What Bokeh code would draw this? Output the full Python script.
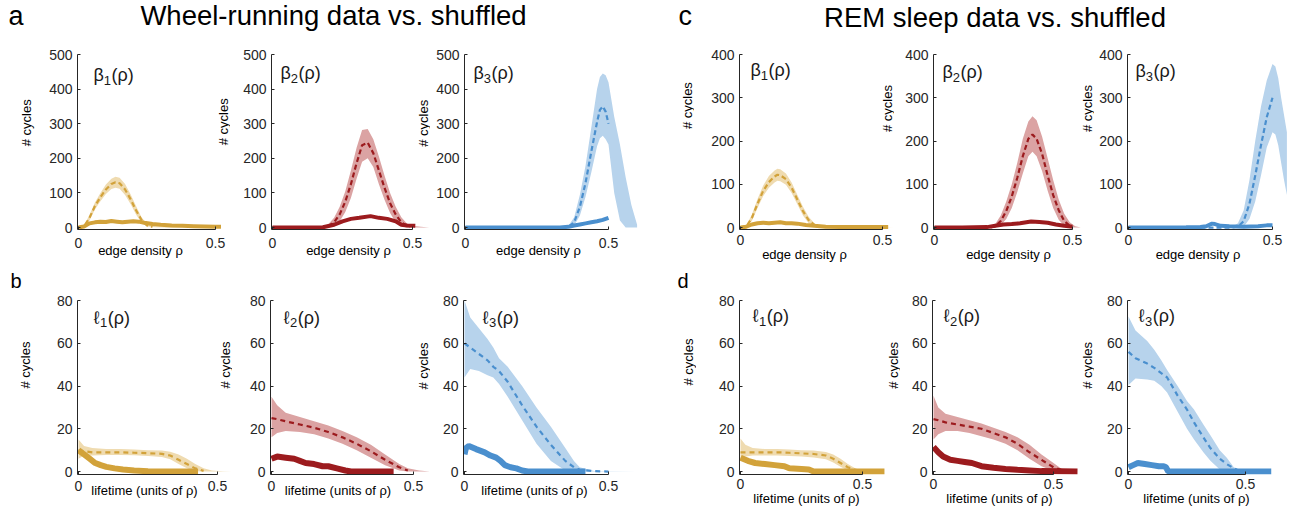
import math
from bokeh.plotting import figure
from bokeh.layouts import column, row
from bokeh.models import Range1d, FixedTicker, Label, LinearAxis
from bokeh.embed import file_html
from bokeh.resources import INLINE

FONT = "Liberation Sans"
INK = "#262626"
GOLD, GOLD_BAND = "#D2A23A", "#EFDBB0"
RED, RED_BAND = "#9C1B1E", "#DBA3A3"
BLUE, BLUE_BAND = "#4A8FCE", "#B7D3EC"

# ---------------- Betti curves, wheel running (edge density rho) ----------------
a1_band_rho = [0, 0.02, 0.04, 0.06, 0.08, 0.10, 0.12, 0.135, 0.15, 0.17, 0.19, 0.21, 0.23, 0.25, 0.28, 0.32, 0.38, 0.45, 0.52]
a1_hi = [0, 6, 36, 72, 100, 124, 141, 147, 144, 126, 96, 62, 30, 10, 4, 2, 1, 0.5, 0]
a1_lo = [0, 1, 20, 52, 76, 97, 111, 115, 112, 94, 68, 38, 14, 3, 0.5, 0, 0, 0, 0]
a1_mean_rho = [0, 0.02, 0.04, 0.06, 0.08, 0.10, 0.12, 0.135, 0.15, 0.17, 0.19, 0.21, 0.23, 0.25, 0.27]
a1_mean = [0, 3, 28, 62, 88, 110, 126, 131, 128, 110, 82, 50, 22, 6, 2]
a1_data_rho = [0, 0.02, 0.04, 0.06, 0.08, 0.10, 0.12, 0.14, 0.16, 0.18, 0.20, 0.22, 0.24, 0.27, 0.30, 0.34, 0.38, 0.42, 0.46, 0.50, 0.52]
a1_data = [0, 3, 12, 15, 17, 16, 19, 17, 15, 17, 18, 17, 14, 10, 8, 6, 5, 4, 3, 2, 2]

a2_band_rho = [0, 0.18, 0.20, 0.22, 0.24, 0.26, 0.28, 0.30, 0.32, 0.34, 0.36, 0.38, 0.40, 0.42, 0.44, 0.46, 0.48, 0.50, 0.53, 0.56]
a2_hi = [0, 1, 10, 28, 60, 105, 165, 230, 282, 285, 255, 205, 150, 100, 60, 30, 12, 5, 2, 0]
a2_lo = [0, 0, 0, 5, 18, 45, 85, 140, 190, 200, 175, 125, 80, 42, 15, 4, 0, 0, 0, 0]
a2_mean_rho = [0, 0.18, 0.20, 0.22, 0.24, 0.26, 0.28, 0.30, 0.32, 0.34, 0.36, 0.38, 0.40, 0.42, 0.44, 0.46, 0.48, 0.49]
a2_mean = [0, 0, 4, 15, 38, 75, 125, 185, 238, 245, 215, 165, 115, 70, 38, 15, 5, 1]
a2_data_rho = [0, 0.10, 0.18, 0.22, 0.25, 0.28, 0.31, 0.35, 0.38, 0.41, 0.44, 0.46, 0.48, 0.51]
a2_data = [0, 0, 1, 8, 18, 25, 28, 33, 28, 25, 18, 8, 6, 5]

a3_band_rho = [0, 0.34, 0.36, 0.38, 0.40, 0.42, 0.44, 0.46, 0.47, 0.48, 0.49, 0.50, 0.52, 0.54, 0.56, 0.58, 0.60]
a3_hi = [0, 0, 5, 30, 95, 180, 290, 400, 435, 445, 440, 420, 320, 240, 145, 65, 8]
a3_lo = [0, 0, 0, 5, 35, 90, 160, 235, 258, 265, 255, 240, 100, 20, 0, 0, 0]
a3_mean_rho = [0, 0.34, 0.36, 0.38, 0.40, 0.42, 0.44, 0.46, 0.47, 0.48, 0.49, 0.50]
a3_mean = [0, 0, 2, 15, 60, 130, 220, 305, 340, 350, 335, 300]
a3_data_rho = [0, 0.33, 0.36, 0.38, 0.40, 0.42, 0.44, 0.46, 0.48, 0.50]
a3_data = [0, 0, 2, 6, 9, 12, 15, 18, 22, 28]

# ---------------- Betti curves, REM sleep ----------------
c1_band_rho = [0, 0.02, 0.04, 0.06, 0.08, 0.10, 0.12, 0.13, 0.14, 0.16, 0.18, 0.20, 0.22, 0.24, 0.26, 0.28, 0.32, 0.40, 0.50, 0.55]
c1_hi = [0, 4, 30, 66, 97, 119, 132, 136, 135, 125, 104, 76, 48, 25, 10, 4, 2, 1, 0.5, 0]
c1_lo = [0, 1, 15, 45, 73, 92, 104, 108, 107, 99, 80, 54, 28, 10, 3, 0.5, 0, 0, 0, 0]
c1_mean_rho = [0, 0.02, 0.04, 0.06, 0.08, 0.10, 0.12, 0.13, 0.14, 0.16, 0.18, 0.20, 0.22, 0.24, 0.26, 0.28]
c1_mean = [0, 2, 22, 55, 85, 105, 118, 122, 121, 112, 92, 65, 38, 17, 6, 2]
c1_data_rho = [0, 0.02, 0.04, 0.06, 0.08, 0.10, 0.12, 0.14, 0.16, 0.18, 0.20, 0.23, 0.26, 0.30, 0.35, 0.40, 0.45, 0.50, 0.52]
c1_data = [0, 2, 7, 10, 11, 10, 11, 12, 10, 10, 9, 6, 4, 2, 1.5, 1, 1, 1, 1]

c2_band_rho = [0, 0.20, 0.22, 0.24, 0.26, 0.28, 0.30, 0.32, 0.34, 0.355, 0.37, 0.39, 0.41, 0.43, 0.45, 0.47, 0.49, 0.51, 0.53]
c2_hi = [0, 1, 8, 28, 60, 100, 150, 205, 245, 257, 248, 210, 160, 110, 65, 32, 12, 3, 0]
c2_lo = [0, 0, 0, 5, 20, 45, 82, 125, 165, 175, 165, 130, 85, 45, 18, 4, 0, 0, 0]
c2_mean_rho = [0, 0.20, 0.22, 0.24, 0.26, 0.28, 0.30, 0.32, 0.34, 0.355, 0.37, 0.39, 0.41, 0.43, 0.45, 0.47, 0.49]
c2_mean = [0, 0, 3, 15, 38, 72, 115, 165, 205, 215, 205, 170, 120, 75, 40, 15, 4]
c2_data_rho = [0, 0.10, 0.19, 0.22, 0.25, 0.28, 0.31, 0.35, 0.38, 0.41, 0.44, 0.47, 0.50]
c2_data = [0, 0, 1, 4, 7, 8, 10, 14, 13, 11, 7, 4, 2]

c3_band_rho = [0, 0.34, 0.36, 0.38, 0.40, 0.42, 0.44, 0.46, 0.48, 0.50, 0.51, 0.52, 0.53, 0.54, 0.55]
c3_hi = [0, 0, 2, 10, 40, 110, 200, 280, 340, 378, 372, 345, 300, 260, 220]
c3_lo = [0, 0, 0, 0, 2, 20, 60, 120, 185, 220, 215, 190, 150, 110, 75]
c3_mean_rho = [0, 0.36, 0.38, 0.40, 0.42, 0.44, 0.46, 0.48, 0.50]
c3_mean = [0, 0, 2, 15, 55, 120, 190, 255, 300]
c3_data_rho = [0, 0.10, 0.20, 0.25, 0.27, 0.29, 0.30, 0.32, 0.35, 0.40, 0.45, 0.48, 0.50]
c3_data = [0, 0, 0.5, 1, 3, 9, 8, 4, 3, 2, 3, 5, 5]

# ---------------- lifetime curves, wheel running ----------------
b1_band_L = [0, 0.02, 0.05, 0.10, 0.15, 0.20, 0.25, 0.30, 0.33, 0.36, 0.39, 0.42, 0.45, 0.48, 0.52, 0.56]
b1_hi = [15, 12, 11, 10.5, 10.5, 10.3, 10, 9.8, 9.3, 8, 6, 3.5, 1.5, 0.5, 0.2, 0]
b1_lo = [6, 7.5, 7.5, 7.8, 7.8, 7.6, 7.3, 6.8, 5.8, 3.5, 1.5, 0.2, 0, 0, 0, 0]
b1_mean_L = [0, 0.02, 0.05, 0.10, 0.15, 0.20, 0.25, 0.30, 0.33, 0.36, 0.39, 0.42, 0.45]
b1_mean = [10, 9.5, 9, 9, 9, 8.8, 8.6, 8.3, 7.5, 5.5, 3.5, 1.5, 0.3]
b1_data_L = [0, 0.01, 0.02, 0.04, 0.06, 0.08, 0.10, 0.13, 0.16, 0.20, 0.25, 0.30, 0.43]
b1_data = [10, 9, 8, 6, 4, 3, 2.2, 1.5, 1, 0.5, 0.2, 0, 0]

b2_band_L = [0, 0.02, 0.05, 0.10, 0.15, 0.20, 0.25, 0.30, 0.35, 0.40, 0.45, 0.48, 0.52, 0.56]
b2_hi = [35, 31, 27.5, 25.5, 23.5, 21.5, 19, 16, 12.5, 8, 3.5, 1.5, 0.5, 0]
b2_lo = [16, 18, 19, 18.5, 17.5, 15.5, 13, 10, 6.5, 3, 0.5, 0, 0, 0]
b2_mean_L = [0, 0.02, 0.05, 0.10, 0.15, 0.20, 0.25, 0.30, 0.35, 0.40, 0.45, 0.48]
b2_mean = [25, 24.5, 23.5, 22, 20.5, 18.5, 16, 13, 9.5, 5.5, 2, 0.5]
b2_data_L = [0, 0.02, 0.05, 0.08, 0.10, 0.12, 0.15, 0.18, 0.20, 0.23, 0.26, 0.28, 0.43]
b2_data = [6, 7, 6.5, 6, 5, 4, 3.5, 2.5, 2.5, 1.5, 0.5, 0, 0]

b3_band_L = [0, 0.02, 0.05, 0.08, 0.10, 0.12, 0.15, 0.20, 0.25, 0.30, 0.35, 0.38, 0.40, 0.45, 0.50, 0.60]
b3_hi = [80, 72, 67, 62, 58, 53, 49, 40, 30, 21, 11, 5, 2, 0.3, 0.2, 0]
b3_lo = [44, 48, 47, 45, 44, 41, 35, 24, 13, 5, 0.5, 0, 0, 0, 0, 0]
b3_mean_L = [0, 0.02, 0.05, 0.08, 0.10, 0.12, 0.15, 0.20, 0.25, 0.30, 0.35, 0.38, 0.40, 0.45, 0.50]
b3_mean = [60, 58, 55, 52, 49, 47, 42, 31, 21, 12.5, 5, 2, 0.8, 0.2, 0]
b3_data_L = [0, 0.005, 0.015, 0.04, 0.07, 0.09, 0.11, 0.125, 0.14, 0.16, 0.18, 0.20, 0.22, 0.42]
b3_data = [8, 11, 12, 10.5, 9, 7.5, 6.5, 5, 3, 2, 1.5, 0.5, 0, 0]

# ---------------- lifetime curves, REM sleep ----------------
d1_band_L = [0, 0.02, 0.05, 0.10, 0.15, 0.20, 0.25, 0.30, 0.35, 0.38, 0.41, 0.44, 0.47, 0.50, 0.55]
d1_hi = [15.5, 12.5, 11, 10.5, 10.5, 10.3, 10, 9.8, 9.2, 8, 6, 3.5, 1.5, 0.5, 0]
d1_lo = [6, 7, 7.5, 7.5, 7.5, 7.3, 7, 6.6, 5.8, 4.2, 2.2, 0.5, 0, 0, 0]
d1_mean_L = [0, 0.02, 0.05, 0.10, 0.15, 0.20, 0.25, 0.30, 0.35, 0.38, 0.41, 0.44, 0.47]
d1_mean = [9, 9, 9, 9, 9, 8.8, 8.5, 8.2, 7.5, 6, 4, 2, 0.8]
d1_data_L = [0, 0.03, 0.06, 0.10, 0.14, 0.18, 0.20, 0.25, 0.28, 0.30, 0.59]
d1_data = [6.5, 5, 4, 3.5, 3, 2.5, 1.5, 1.2, 1, 0, 0]

d2_band_L = [0, 0.02, 0.05, 0.10, 0.15, 0.20, 0.25, 0.30, 0.35, 0.40, 0.45, 0.50, 0.53, 0.56, 0.60]
d2_hi = [35.5, 30, 27, 25.5, 24, 22.5, 20.5, 18.5, 16, 12.5, 8, 4, 1.5, 0.3, 0]
d2_lo = [15, 17.5, 19, 19, 18, 16.5, 15, 13, 10, 6, 2.5, 0.3, 0, 0, 0]
d2_mean_L = [0, 0.02, 0.05, 0.10, 0.15, 0.20, 0.25, 0.30, 0.35, 0.40, 0.45, 0.50, 0.53]
d2_mean = [24.5, 24, 23, 22, 21, 20, 18, 16, 13, 9, 5.5, 2, 0.8]
d2_data_L = [0, 0.02, 0.04, 0.07, 0.10, 0.13, 0.16, 0.20, 0.25, 0.30, 0.35, 0.40, 0.45, 0.60]
d2_data = [11.5, 9, 7, 5.5, 5, 4.5, 4, 2.5, 1.8, 1.2, 0.8, 0.5, 0.2, 0]

d3_band_L = [0, 0.03, 0.08, 0.11, 0.14, 0.165, 0.21, 0.25, 0.28, 0.32, 0.35, 0.39, 0.42, 0.45, 0.48, 0.50]
d3_hi = [72.5, 66, 61, 57, 52, 47.5, 40, 33, 29, 22, 17, 10, 6.5, 2, 0.5, 0]
d3_lo = [40.5, 43.5, 43, 42.5, 40, 37, 28, 20, 15, 9, 5, 1, 0, 0, 0, 0]
d3_mean_L = [0, 0.03, 0.08, 0.11, 0.14, 0.165, 0.21, 0.25, 0.28, 0.32, 0.35, 0.39, 0.42, 0.45, 0.47]
d3_mean = [56, 53, 50.5, 48.5, 46, 44, 35.5, 29, 23, 16, 11, 6, 3.5, 1.5, 0.5]
d3_data_L = [0, 0.02, 0.04, 0.07, 0.10, 0.13, 0.15, 0.16, 0.17, 0.61]
d3_data = [2, 3, 4, 3.5, 3, 2.5, 2.5, 2, 0, 0]

x_ticks = [0, 0.5]
beta_ticks_wheel = [0, 100, 200, 300, 400, 500]
beta_ticks_rem = [0, 100, 200, 300, 400]
life_ticks = [0, 20, 40, 60, 80]

# page geometry (pixels from the top-left corner of the page)
PAGE_W, PAGE_H = 1296, 514
HEAD, SPLIT, STRIP = 42, 268, 24
ROW2 = SPLIT + STRIP
TICK_PX = 14
DIGIT_W = 0.556 * TICK_PX
TICK_BOX_H = 15.6
MID_SHIFT = (0.905 - 0.212) / 2   # alphabetic baseline -> middle of the text box, in em


def style_axis(ax):
    ax.axis_line_color = INK
    ax.axis_line_width = 1
    ax.major_tick_line_color = INK
    ax.major_tick_in = 3
    ax.major_tick_out = 0
    ax.minor_tick_line_color = None
    ax.major_label_text_font = FONT
    ax.major_label_text_font_size = f"{TICK_PX}px"
    ax.major_label_text_color = INK


def title_axis(pos, text, orientation, standoff):
    """An axis whose single tick label is the axis title, centred at `pos`."""
    pos = round(pos, 4)
    return LinearAxis(ticker=FixedTicker(ticks=[pos]), major_label_overrides={pos: text},
                      major_label_orientation=orientation, major_label_standoff=standoff,
                      major_label_text_font=FONT, major_label_text_font_size="13px",
                      major_label_text_color="black", axis_line_color=None,
                      major_tick_line_color=None, minor_tick_line_color=None,
                      major_tick_in=0, major_tick_out=0, minor_tick_in=0, minor_tick_out=0)


class Panel:
    """One small axes; page pixel positions are converted to data units."""

    def __init__(self, fig_left, fig_right, row_top, row_bottom, axis_x, x_half,
                 y_top, y0, ymax, yticks, x_pad, y_pad):
        self.axis_x, self.y0 = axis_x, y0
        self.x_pad, self.y_pad = x_pad, y_pad
        self.ymax = ymax
        self.ppx = x_half / 0.5
        self.ppy = (y0 - y_top) / ymax
        p = figure(width=fig_right - fig_left, height=row_bottom - row_top, title=None,
                   x_range=Range1d(-x_pad / self.ppx, (fig_right - axis_x) / self.ppx),
                   y_range=Range1d(-y_pad / self.ppy, ymax),
                   min_border_left=axis_x - x_pad - fig_left, min_border_right=0,
                   min_border_top=y_top - row_top,
                   min_border_bottom=row_bottom - (y0 + y_pad),
                   output_backend="svg", toolbar_location=None,
                   outline_line_color=None, background_fill_color="white",
                   border_fill_color="white")
        p.grid.visible = False
        style_axis(p.xaxis[0])
        style_axis(p.yaxis[0])
        p.xaxis.ticker = FixedTicker(ticks=x_ticks)
        p.xaxis.bounds = (-x_pad / self.ppx, 0.5)
        p.xaxis.major_label_overrides = {0: "0", 0.5: "0.5"}
        p.yaxis.ticker = FixedTicker(ticks=yticks)
        p.yaxis.bounds = (-y_pad / self.ppy, ymax)
        p.yaxis.major_label_standoff = 5
        self.p = p

    def at(self, X, Y):
        return (X - self.axis_x) / self.ppx, (self.y0 - Y) / self.ppy

    def text(self, X, Y, txt, size, align="left", baseline="middle", angle=0, color="#1a1a1a"):
        x, y = self.at(X, Y)
        self.p.add_layout(Label(x=x, y=y, text=txt, text_font=FONT, text_font_size=size,
                                text_align=align, text_baseline=baseline, angle=angle,
                                text_color=color))

    def curves(self, band_x, lo, hi, mean_x, mean, data_x, data, color, band, data_width, dash):
        self.p.varea(x=band_x, y1=lo, y2=hi, fill_color=band, fill_alpha=1)
        self.p.line(mean_x, mean, line_color=color, line_width=2.2, line_dash=dash)
        self.p.line(data_x, data, line_color=color, line_width=data_width)

    def symbol(self, X, Y, head, sub):
        w_head = 0.575 * 18 if head == "β" else 0.36 * 18
        self.text(X, Y, head, "18px")
        self.text(X + w_head, Y + 5, sub, "13px")
        self.text(X + w_head + 7.7, Y, "(ρ)", "18px")

    def xticks_at(self, centre_below_zero):
        # digits hang from the anchor; their centre is ~5 px below it
        self.s_tick = int(round(centre_below_zero - self.y_pad - 5))
        self.p.xaxis.major_label_standoff = self.s_tick

    def own_ylabel(self, X, Y):
        """'# cycles' in this panel's left border, as a one-tick axis."""
        _, yc = self.at(X, Y)
        width = len(str(self.ymax)) * DIGIT_W
        standoff = int(round((self.axis_x - self.x_pad) - 5 - width - 3.4 - X))
        self.p.add_layout(title_axis(yc, "# cycles", "vertical", standoff), "left")

    def neighbour_ylabel(self, X, Y):
        """'# cycles' of the next panel, which falls inside this panel's frame."""
        self.text(X, Y, "# cycles", "13px", align="center", angle=math.pi / 2, color="black")

    def xlabel(self, X, Y, txt):
        xc, _ = self.at(X, Y)
        anchor = self.y0 + self.y_pad + self.s_tick + TICK_BOX_H
        standoff = int(round(Y - 6.1 - anchor))
        self.p.add_layout(title_axis(xc, txt, "horizontal", standoff), "below")


# ---------------- top row: Betti curves ----------------
a1 = Panel(0, 230, HEAD, SPLIT, 78, 137, 54, 230, 500, beta_ticks_wheel, 1, 2)
a2 = Panel(230, 430, HEAD, SPLIT, 272, 140, 54, 230, 500, beta_ticks_wheel, 1, 2)
a3 = Panel(430, 694, HEAD, SPLIT, 465, 143, 54, 230, 500, beta_ticks_wheel, 1, 2)
c1 = Panel(694, 894, HEAD, SPLIT, 740, 142, 51, 227, 400, beta_ticks_rem, 1, 2)
c2 = Panel(894, 1094, HEAD, SPLIT, 934, 138, 51, 227, 400, beta_ticks_rem, 1, 2)
c3 = Panel(1094, 1296, HEAD, SPLIT, 1128, 144, 51, 227, 400, beta_ticks_rem, 1, 2)

a1.curves(a1_band_rho, a1_lo, a1_hi, a1_mean_rho, a1_mean, a1_data_rho, a1_data, GOLD, GOLD_BAND, 4, "5 3")
a2.curves(a2_band_rho, a2_lo, a2_hi, a2_mean_rho, a2_mean, a2_data_rho, a2_data, RED, RED_BAND, 4, "5 3")
a3.curves(a3_band_rho, a3_lo, a3_hi, a3_mean_rho, a3_mean, a3_data_rho, a3_data, BLUE, BLUE_BAND, 4, "5 3")
c1.curves(c1_band_rho, c1_lo, c1_hi, c1_mean_rho, c1_mean, c1_data_rho, c1_data, GOLD, GOLD_BAND, 4, "5 3")
c2.curves(c2_band_rho, c2_lo, c2_hi, c2_mean_rho, c2_mean, c2_data_rho, c2_data, RED, RED_BAND, 4, "5 3")
c3.curves(c3_band_rho, c3_lo, c3_hi, c3_mean_rho, c3_mean, c3_data_rho, c3_data, BLUE, BLUE_BAND, 4, "5 3")

for pan in (a1, a2, a3):
    pan.xticks_at(15)
for pan in (c1, c2, c3):
    pan.xticks_at(12)

for pan, X, Y, n in [(a1, 93, 75, "1"), (a2, 280, 73, "2"), (a3, 473, 73, "3"),
                     (c1, 750, 67, "1"), (c2, 942, 69, "2"), (c3, 1135, 68, "3")]:
    pan.symbol(X, Y, "β", n)
a1.own_ylabel(33, 123.5)
a1.neighbour_ylabel(223, 122.5)
a2.neighbour_ylabel(423, 124)
a3.neighbour_ylabel(687, 106)
c1.neighbour_ylabel(887, 106)
c2.neighbour_ylabel(1087, 106)
for pan, X, Y in [(a1, 140, 254), (a2, 348, 254), (a3, 538, 254),
                  (c1, 804, 254.5), (c2, 1008, 254.5), (c3, 1197.5, 254.5)]:
    pan.xlabel(X, Y, "edge density ρ")

# ---------------- bottom row: lifetime curves ----------------
b1 = Panel(0, 232, ROW2, PAGE_H, 78, 139, 300, 475, 80, life_ticks, 1, 3)
b2 = Panel(232, 430, ROW2, PAGE_H, 271, 142, 300, 475, 80, life_ticks, 1, 3)
b3 = Panel(430, 696, ROW2, PAGE_H, 464, 144, 300, 475, 80, life_ticks, 1, 3)
d1 = Panel(696, 900, ROW2, PAGE_H, 740, 122, 297, 471, 80, life_ticks, 1, 3)
d2 = Panel(900, 1094, ROW2, PAGE_H, 933, 120, 297, 471, 80, life_ticks, 1, 3)
d3 = Panel(1094, 1296, ROW2, PAGE_H, 1128, 117, 297, 471, 80, life_ticks, 1, 3)

b1.curves(b1_band_L, b1_lo, b1_hi, b1_mean_L, b1_mean, b1_data_L, b1_data, GOLD, GOLD_BAND, 6, "5 4")
b2.curves(b2_band_L, b2_lo, b2_hi, b2_mean_L, b2_mean, b2_data_L, b2_data, RED, RED_BAND, 6, "5 4")
b3.curves(b3_band_L, b3_lo, b3_hi, b3_mean_L, b3_mean, b3_data_L, b3_data, BLUE, BLUE_BAND, 6, "5 4")
d1.curves(d1_band_L, d1_lo, d1_hi, d1_mean_L, d1_mean, d1_data_L, d1_data, GOLD, GOLD_BAND, 6, "5 4")
d2.curves(d2_band_L, d2_lo, d2_hi, d2_mean_L, d2_mean, d2_data_L, d2_data, RED, RED_BAND, 6, "5 4")
d3.curves(d3_band_L, d3_lo, d3_hi, d3_mean_L, d3_mean, d3_data_L, d3_data, BLUE, BLUE_BAND, 6, "5 4")

for pan in (b1, b2, b3):
    pan.xticks_at(14)
for pan in (d1, d2, d3):
    pan.xticks_at(12.5)

for pan, X, Y, n in [(b1, 93, 318, "1"), (b2, 283, 318, "2"), (b3, 482, 318, "3"),
                     (d1, 752, 313, "1"), (d2, 943, 313, "2"), (d3, 1138, 313, "3")]:
    pan.symbol(X, Y, "ℓ", n)
b1.own_ylabel(33, 366)
b1.neighbour_ylabel(225, 366)
b2.neighbour_ylabel(423, 367)
b3.neighbour_ylabel(687.5, 363)
d1.neighbour_ylabel(893, 363)
d2.neighbour_ylabel(1087, 363)
for pan, X, Y in [(b1, 144, 495), (b2, 337.5, 495), (b3, 534, 495),
                  (d1, 806, 498.5), (d2, 999, 498.5), (d3, 1196, 498.5)]:
    pan.xlabel(X, Y, "lifetime (units of ρ)")


# ---------------- text strips: panel letters and titles ----------------
def strip(top, height, items):
    s = figure(width=PAGE_W, height=height, title=None, x_range=Range1d(0, PAGE_W),
               y_range=Range1d(top + height, top), x_axis_location=None, y_axis_location=None,
               min_border=0, outline_line_color=None, toolbar_location=None,
               output_backend="svg", background_fill_color="white", border_fill_color="white")
    s.grid.visible = False
    for X, baseline_y, txt, px, align in items:
        # anchor each text at the middle of its box, computed from its baseline
        s.add_layout(Label(x=X, y=baseline_y - MID_SHIFT * px, text=txt, text_font=FONT,
                           text_font_size=f"{px}px", text_align=align, text_baseline="middle",
                           text_color="black"))
    return s


head = strip(0, HEAD, [(8, 25, "a", 27, "left"),
                       (333, 25, "Wheel-running data vs. shuffled", 27.5, "center"),
                       (678, 25, "c", 27, "left"),
                       (994.5, 27, "REM sleep data vs. shuffled", 27.5, "center")])
mid = strip(SPLIT, STRIP, [(10, 287, "b", 20, "left"),
                           (677, 287, "d", 20, "left")])

layout = column(head,
                row(a1.p, a2.p, a3.p, c1.p, c2.p, c3.p, spacing=0),
                mid,
                row(b1.p, b2.p, b3.p, d1.p, d2.p, d3.p, spacing=0),
                spacing=0)

open("out.html", "w").write(file_html(layout, INLINE, "Betti curves and lifetimes"))
